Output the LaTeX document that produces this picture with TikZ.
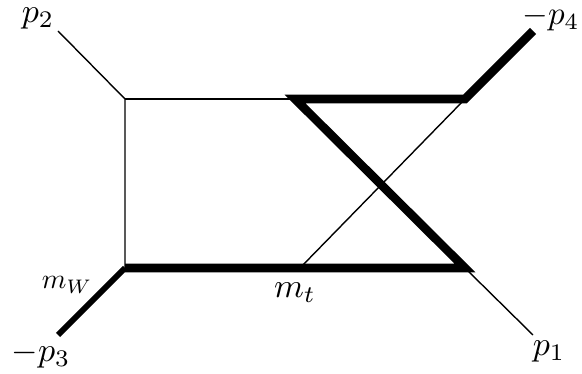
\documentclass[tikz,border=0pt]{standalone}
\tikzset{thin line/.style={line width=1.4pt,black},thick line/.style={line width=8.6pt,black,line cap=butt,line join=miter},mid line/.style={line width=6pt,black,line cap=butt},lab/.style={inner sep=0pt}}
\begin{document}
\begin{tikzpicture}[x=1pt,y=-1pt]
\useasboundingbox (0,0) rectangle (582,374);
\coordinate (a) at (125,99);
\coordinate (b) at (125,268);
\coordinate (c) at (295,99);
\coordinate (d) at (465,99);
\coordinate (e) at (300,268);
\coordinate (f) at (465,268);
\coordinate (p2) at (58,31);
\coordinate (p4) at (533,31);
\coordinate (p3) at (58,335);
\coordinate (p1) at (533,335);
\draw[thin line] (p2) -- (a) -- (b);
\draw[thin line] (a) -- (c);
\draw[thin line] (d) -- (e);
\draw[thin line] (f) -- (p1);
\draw[thick line] (p4) -- (d) -- (c) -- (f) -- (b);
\draw[mid line] (b) -- (p3);
\node[lab,scale=3.4] (l2) at (38,18) {$p_2$};
\node[lab,scale=3.3] (l4) at (551,18) {$-p_4$};
\node[lab,scale=3.4] (l3) at (41,355) {$-p_3$};
\node[lab,scale=3.4] (l1) at (549,351) {$p_1$};
\node[lab,scale=2.8] (lw) at (67,285) {$m_W$};
\node[lab,scale=3.4] (lt) at (295,293) {$m_t$};
\end{tikzpicture}
\end{document}
